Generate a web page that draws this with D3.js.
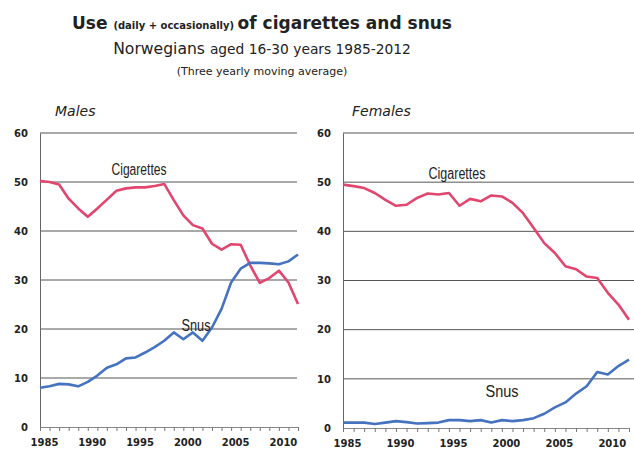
<!DOCTYPE html>
<html>
<head>
<meta charset="utf-8">
<script src="https://cdn.jsdelivr.net/npm/d3@7"></script>
<style>
  body { margin: 0; background: #fff; }
  text { font-family: "DejaVu Sans", sans-serif; fill: #222; }
  .seriesLabel { font-family: "Liberation Sans", "DejaVu Sans", sans-serif; }
</style>
</head>
<body>
<div class="chart"></div>
<script>
// Use of cigarettes and snus, Norwegians 16-30, 1985-2012

var years = d3.range(1985, 2013);
var tickYears = [1985, 1990, 1995, 2000, 2005, 2010];
var yTicks = [0, 10, 20, 30, 40, 50, 60];

var malesCigarettes = [50.2, 50.0, 49.5, 46.6, 44.6, 42.9, 44.6, 46.4, 48.2, 48.7,
  48.9, 48.9, 49.2, 49.6, 46.3, 43.2, 41.2, 40.5, 37.4, 36.2,
  37.3, 37.2, 33.0, 29.4, 30.4, 31.9, 29.5, 25.1];
var malesSnus = [8.0, 8.3, 8.8, 8.7, 8.3, 9.2, 10.5, 12.1, 12.8, 14.0,
  14.2, 15.2, 16.3, 17.6, 19.3, 17.9, 19.3, 17.6, 20.3, 24.1,
  29.5, 32.3, 33.5, 33.5, 33.4, 33.2, 33.8, 35.2];
var femalesCigarettes = [49.5, 49.2, 48.8, 47.8, 46.4, 45.2, 45.4, 46.8, 47.7, 47.5,
  47.8, 45.2, 46.6, 46.1, 47.3, 47.1, 45.8, 43.7, 40.7, 37.6,
  35.6, 32.9, 32.3, 30.8, 30.5, 27.5, 25.1, 22.0];
var femalesSnus = [1.1, 1.1, 1.1, 0.8, 1.1, 1.4, 1.2, 0.9, 1.0, 1.1,
  1.6, 1.6, 1.4, 1.6, 1.1, 1.6, 1.4, 1.6, 2.0, 2.9,
  4.2, 5.2, 7.0, 8.5, 11.4, 10.9, 12.6, 13.9];

var svgWidth = 634;
var svgHeight = 451;

var cigColor = "#e2456e";
var snusColor = "#4673bf";

var svg = d3.select(".chart")
  .append("svg")
  .attr("width", svgWidth)
  .attr("height", svgHeight);

// titles
var title = svg.append("text")
  .attr("x", 262)
  .attr("y", 29)
  .attr("text-anchor", "middle");
title.append("tspan").style("font-size", "17px").style("font-weight", "bold").text("Use ");
title.append("tspan").style("font-size", "10px").style("font-weight", "bold").text("(daily + occasionally) ");
title.append("tspan").style("font-size", "17px").style("font-weight", "bold").text("of cigarettes and snus");

var sub = svg.append("text")
  .attr("x", 262)
  .attr("y", 54)
  .attr("text-anchor", "middle");
sub.append("tspan").style("font-size", "15.6px").text("Norwegians ");
sub.append("tspan").style("font-size", "13.8px").text("aged 16-30 years 1985-2012");

svg.append("text")
  .attr("x", 262)
  .attr("y", 75)
  .attr("text-anchor", "middle")
  .style("font-size", "11px")
  .text("(Three yearly moving average)");

function drawPanel(opts) {
  var x = d3.scaleLinear().domain([1985, 2012]).range([opts.x0, opts.x1]);
  var y = d3.scaleLinear().domain([0, 60]).range([opts.y0, opts.y1]);

  var g = svg.append("g");

  // panel label
  g.append("text")
    .attr("x", opts.labelX)
    .attr("y", 116)
    .style("font-size", "14px")
    .style("font-style", "italic")
    .text(opts.name);

  // gridlines
  g.selectAll("line.grid")
    .data(yTicks.filter(d => d > 0))
    .enter()
    .append("line")
    .attr("class", "grid")
    .attr("x1", opts.x0)
    .attr("x2", opts.gridEnd)
    .attr("y1", d => y(d))
    .attr("y2", d => y(d))
    .attr("stroke", "#555")
    .attr("stroke-width", 1);

  // y axis
  var leftAxis = d3.axisLeft(y).tickValues(yTicks).tickSize(0).tickPadding(12);
  var yAxis = g.append("g")
    .attr("transform", `translate(${opts.x0}, 0)`)
    .call(leftAxis);
  yAxis.select(".domain").attr("stroke", "#666");
  yAxis.selectAll("text")
    .style("font-size", "10px")
    .style("font-weight", "bold")
    .style("font-family", "DejaVu Sans, sans-serif");

  // x axis
  var bottomAxis = d3.axisBottom(x).tickValues(years).tickSize(4).tickFormat(d => tickYears.indexOf(d) >= 0 ? d : "");
  var xAxis = g.append("g")
    .attr("transform", `translate(0, ${opts.y0})`)
    .call(bottomAxis);
  xAxis.select(".domain").attr("stroke", "#888");
  xAxis.selectAll(".tick line").attr("stroke", "#777");
  xAxis.selectAll("text")
    .attr("dx", 4)
    .attr("dy", "1.2em")
    .style("font-size", "10px")
    .style("font-weight", "bold")
    .style("font-family", "DejaVu Sans, sans-serif");

  var line = d3.line()
    .x((d, i) => x(years[i]))
    .y(d => y(d));

  g.append("path")
    .datum(opts.cig)
    .attr("fill", "none")
    .attr("stroke", cigColor)
    .attr("stroke-width", 2.6)
    .attr("stroke-linejoin", "round")
    .attr("d", line);

  g.append("path")
    .datum(opts.snus)
    .attr("fill", "none")
    .attr("stroke", snusColor)
    .attr("stroke-width", 2.6)
    .attr("stroke-linejoin", "round")
    .attr("d", line);

  // series labels, squeezed to a narrow face
  g.append("text")
    .attr("class", "seriesLabel")
    .attr("x", opts.cigLabel[0])
    .attr("y", opts.cigLabel[1])
    .attr("text-anchor", "middle")
    .attr("textLength", opts.cigLabel[2])
    .attr("lengthAdjust", "spacingAndGlyphs")
    .style("font-size", "16px")
    .text("Cigarettes");

  g.append("text")
    .attr("class", "seriesLabel")
    .attr("x", opts.snusLabel[0])
    .attr("y", opts.snusLabel[1])
    .attr("text-anchor", "middle")
    .attr("textLength", opts.snusLabel[2])
    .attr("lengthAdjust", "spacingAndGlyphs")
    .style("font-size", "16px")
    .text("Snus");
}

drawPanel({
  name: "Males", labelX: 55,
  x0: 40, x1: 298, gridEnd: 297, y0: 427, y1: 133,
  cig: malesCigarettes, snus: malesSnus,
  cigLabel: [139, 175, 55], snusLabel: [196, 331, 29]
});

drawPanel({
  name: "Females", labelX: 352,
  x0: 343, x1: 629, gridEnd: 634, y0: 428, y1: 133,
  cig: femalesCigarettes, snus: femalesSnus,
  cigLabel: [457, 179, 57], snusLabel: [502, 397, 33]
});
</script>
</body>
</html>
